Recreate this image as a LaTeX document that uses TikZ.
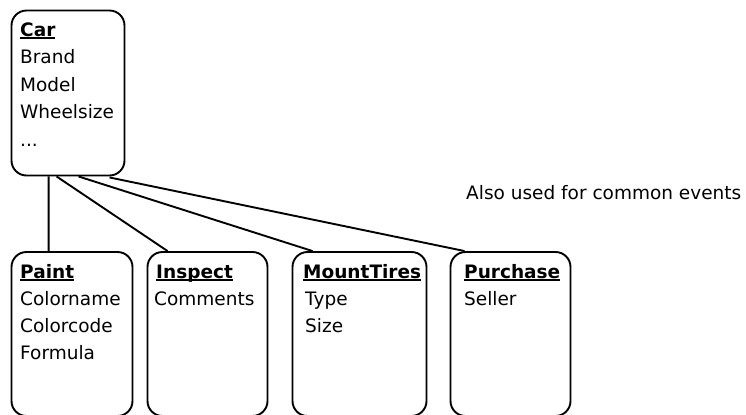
\documentclass[tikz,border=0pt]{standalone}
\usepackage{fontspec}
\setmainfont{DejaVu Sans}
\newcommand\entitytitle[1]{\setbox0\hbox{\bfseries #1}\rlap{\rule[-2.6bp]{\wd0}{1.6bp}}\box0}
\begin{document}
\begin{tikzpicture}[x=1bp,y=-1bp,
  every node/.style={font=\fontsize{18.5bp}{22bp}\selectfont},
  entity/.style={draw,line width=1.9bp,rounded corners=15bp,inner sep=0pt},
  field/.style={anchor=base west,inner sep=0pt},
  link/.style={line width=1.9bp}]
\useasboundingbox (0,0) rectangle (746,414);

% entity boxes
\node[entity,minimum width=113bp,minimum height=165bp] (car) at (68,93) {};
\node[entity,minimum width=121bp,minimum height=164bp] (paint) at (72,334) {};
\node[entity,minimum width=120bp,minimum height=164bp] (inspect) at (207.5,334) {};
\node[entity,minimum width=134bp,minimum height=164bp] (mount) at (359.5,334) {};
\node[entity,minimum width=120bp,minimum height=164bp] (purchase) at (510.5,334) {};

% Car
\node[field] (carT) at (20,36) {\entitytitle{Car}};
\node[field] (carA) at (20,63.5) {Brand};
\node[field] (carB) at (20,91) {Model};
\node[field] (carC) at (20,118.5) {Wheelsize};
\node[field] (carD) at (20,146) {...};

% Paint
\node[field] (paintT) at (20,278) {\entitytitle{Paint}};
\node[field] (paintA) at (20,305) {Colorname};
\node[field] (paintB) at (20,332) {Colorcode};
\node[field] (paintC) at (20,359) {Formula};

% Inspect
\node[field] (inspT) at (156,278) {\entitytitle{Inspect}};
\node[field] (inspA) at (154,305) {Comments};

% MountTires
\node[field] (mountT) at (303,278) {\entitytitle{MountTires}};
\node[field] (mountA) at (305,305) {Type};
\node[field] (mountB) at (305,332) {Size};

% Purchase
\node[field] (purT) at (464,278) {\entitytitle{Purchase}};
\node[field] (purA) at (464,305) {Seller};

% note
\node[field] (note) at (466,199) {Also used for common events};

% relationships
\draw[link] ([xshift=38bp]car.south west) -- ([xshift=38bp]paint.north west);
\draw[link] ([xshift=46bp]car.south west) -- ([xshift=21bp]inspect.north west);
\draw[link] ([xshift=68bp]car.south west) -- ([xshift=21bp]mount.north west);
\draw[link] ([xshift=99bp,yshift=-1bp]car.south west) -- ([xshift=15bp]purchase.north west);
\end{tikzpicture}
\end{document}
